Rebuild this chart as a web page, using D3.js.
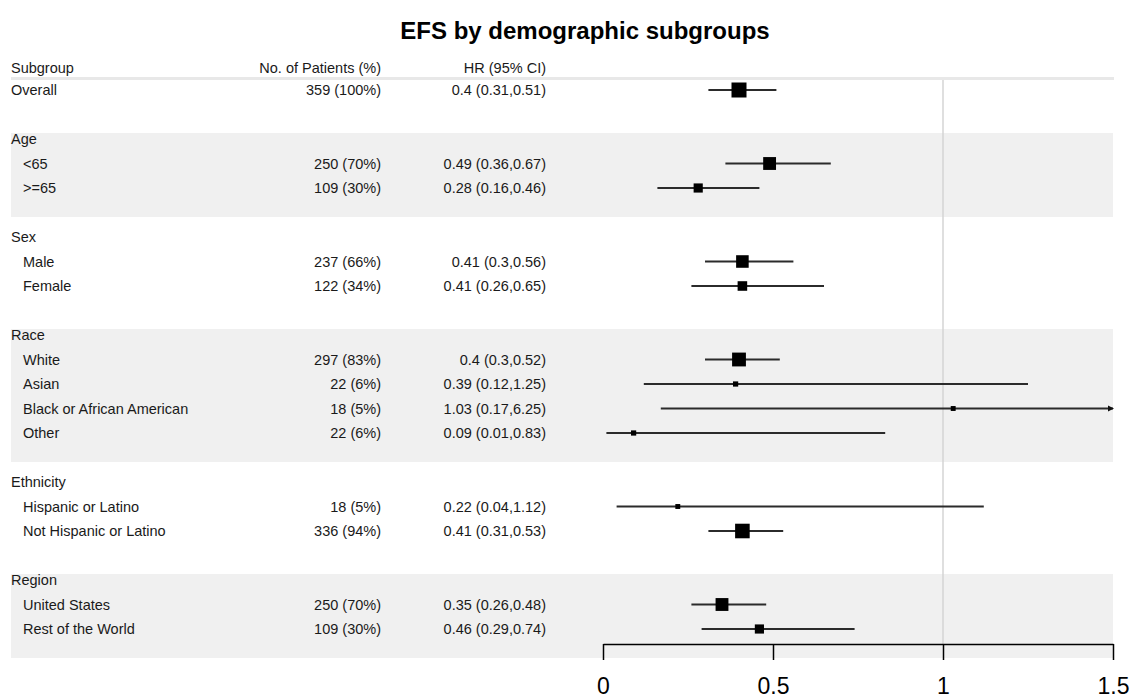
<!DOCTYPE html>
<html>
<head>
<meta charset="utf-8">
<script src="https://cdn.jsdelivr.net/npm/d3@7"></script>
<style>
  html, body { margin: 0; padding: 0; background: #fff; }
  svg { display: block; font-family: "Liberation Sans", Arial, sans-serif; }
</style>
</head>
<body>
<svg id="chart" width="1135" height="698"></svg>
<script>
// ---------- data ----------
const title = "EFS by demographic subgroups";
const columnHeaders = ["Subgroup", "No. of Patients (%)", "HR (95% CI)"];
const subgroups = ["Overall", "", "Age", "<65", ">=65", "", "Sex", "Male", "Female", "",
  "Race", "White", "Asian", "Black or African American", "Other", "",
  "Ethnicity", "Hispanic or Latino", "Not Hispanic or Latino", "",
  "Region", "United States", "Rest of the World"];
const rowType = ["overall", "blank", "group", "sub", "sub", "blank", "group", "sub", "sub", "blank",
  "group", "sub", "sub", "sub", "sub", "blank",
  "group", "sub", "sub", "blank",
  "group", "sub", "sub"];
const patients = [359, null, null, 250, 109, null, null, 237, 122, null,
  null, 297, 22, 18, 22, null,
  null, 18, 336, null,
  null, 250, 109];
const percents = [100, null, null, 70, 30, null, null, 66, 34, null,
  null, 83, 6, 5, 6, null,
  null, 5, 94, null,
  null, 70, 30];
const hr = [0.4, null, null, 0.49, 0.28, null, null, 0.41, 0.41, null,
  null, 0.4, 0.39, 1.03, 0.09, null,
  null, 0.22, 0.41, null,
  null, 0.35, 0.46];
const lower = [0.31, null, null, 0.36, 0.16, null, null, 0.3, 0.26, null,
  null, 0.3, 0.12, 0.17, 0.01, null,
  null, 0.04, 0.31, null,
  null, 0.26, 0.29];
const upper = [0.51, null, null, 0.67, 0.46, null, null, 0.56, 0.65, null,
  null, 0.52, 1.25, 6.25, 0.83, null,
  null, 1.12, 0.53, null,
  null, 0.48, 0.74];
const xTicks = [0, 0.5, 1, 1.5];
const refValue = 1;

// ---------- layout ----------
const svg = d3.select("#chart");
const fontSize = 14.5;
const textColor = "#1a1a1a";
const bandLeft = 11, bandRight = 1113;
const colSubX = 11, colSubIndent = 23, colNX = 381, colHRX = 546;

const x = d3.scaleLinear().domain([xTicks[0], xTicks[xTicks.length - 1]]).range([603, 1113]);
const y = d3.scaleLinear().domain([0, subgroups.length - 1]).range([90, 90 + (subgroups.length - 1) * 24.5]);
const boxSize = d3.scaleSqrt().domain([0, d3.max(patients)]).range([2, 15]);
const axisY = 644;

// title
svg.append("text")
  .attr("x", 585).attr("y", 39)
  .attr("text-anchor", "middle")
  .attr("font-size", 24).attr("font-weight", "bold")
  .attr("fill", "#000")
  .text(title);

// shaded group bands
const rows = subgroups.map((s, i) => ({ i, s, type: rowType[i] }));
const groupStarts = rows.filter(r => r.type === "group").map(r => r.i);
groupStarts.forEach((g, k) => {
  if (k % 2 !== 0) return;
  let last = g;
  while (last + 1 < rows.length && rows[last + 1].type === "sub") last++;
  svg.append("rect")
    .attr("x", bandLeft).attr("width", bandRight - bandLeft)
    .attr("y", y(g) - 6)
    .attr("height", (y(last) + 29) - (y(g) - 6))
    .attr("fill", "#f0f0f0");
});

// header separator
svg.append("line")
  .attr("x1", bandLeft).attr("x2", bandRight + 1)
  .attr("y1", 78.5).attr("y2", 78.5)
  .attr("stroke", "#e8e8e8").attr("stroke-width", 3);

// column headers
const hdrY = 68;
svg.append("text").attr("x", colSubX).attr("y", hdrY).attr("dy", "0.35em")
  .attr("font-size", fontSize).attr("fill", textColor).text(columnHeaders[0]);
svg.append("text").attr("x", colNX).attr("y", hdrY).attr("dy", "0.35em").attr("text-anchor", "end")
  .attr("font-size", fontSize).attr("fill", textColor).text(columnHeaders[1]);
svg.append("text").attr("x", colHRX).attr("y", hdrY).attr("dy", "0.35em").attr("text-anchor", "end")
  .attr("font-size", fontSize).attr("fill", textColor).text(columnHeaders[2]);

// reference line
svg.append("line")
  .attr("x1", x(refValue)).attr("x2", x(refValue))
  .attr("y1", 80).attr("y2", axisY)
  .attr("stroke", "#d4d4d4").attr("stroke-width", 1.5);

// row texts
const textRows = rows.filter(r => r.type !== "blank");
svg.selectAll("text.sub").data(textRows).enter().append("text")
  .attr("class", "sub")
  .attr("x", d => d.type === "sub" ? colSubIndent : colSubX)
  .attr("y", d => y(d.i)).attr("dy", "0.35em")
  .attr("font-size", fontSize).attr("fill", textColor)
  .text(d => d.s);

const dataRows = rows.filter(r => hr[r.i] !== null);
svg.selectAll("text.n").data(dataRows).enter().append("text")
  .attr("class", "n")
  .attr("x", colNX).attr("y", d => y(d.i)).attr("dy", "0.35em").attr("text-anchor", "end")
  .attr("font-size", fontSize).attr("fill", textColor)
  .text(d => `${patients[d.i]} (${percents[d.i]}%)`);
svg.selectAll("text.hr").data(dataRows).enter().append("text")
  .attr("class", "hr")
  .attr("x", colHRX).attr("y", d => y(d.i)).attr("dy", "0.35em").attr("text-anchor", "end")
  .attr("font-size", fontSize).attr("fill", textColor)
  .text(d => `${hr[d.i]} (${lower[d.i]},${upper[d.i]})`);

// CI lines
const xMax = x.domain()[1];
svg.selectAll("line.ci").data(dataRows).enter().append("line")
  .attr("class", "ci")
  .attr("x1", d => x(Math.max(lower[d.i], x.domain()[0])))
  .attr("x2", d => x(Math.min(upper[d.i], xMax)))
  .attr("y1", d => y(d.i)).attr("y2", d => y(d.i))
  .attr("stroke", "#2b2b2b").attr("stroke-width", 1.8);

// arrows for truncated CIs
svg.selectAll("path.arrow").data(dataRows.filter(d => upper[d.i] > xMax)).enter().append("path")
  .attr("class", "arrow")
  .attr("d", d => {
    const xe = x(xMax) + 1, yy = y(d.i);
    return `M${xe},${yy} L${xe - 6},${yy - 3} L${xe - 6},${yy + 3} Z`;
  })
  .attr("fill", "#111");

// boxes
svg.selectAll("rect.box").data(dataRows).enter().append("rect")
  .attr("class", "box")
  .attr("x", d => x(hr[d.i]) - boxSize(patients[d.i]) / 2)
  .attr("y", d => y(d.i) - boxSize(patients[d.i]) / 2)
  .attr("width", d => boxSize(patients[d.i]))
  .attr("height", d => boxSize(patients[d.i]))
  .attr("fill", "#000");

// axis
const axis = d3.axisBottom(x).tickValues(xTicks).tickSize(16).tickSizeOuter(0)
  .tickFormat(d => String(d));
const gAxis = svg.append("g").attr("transform", `translate(0,${axisY})`).call(axis);
gAxis.select(".domain").attr("stroke", "#000").attr("stroke-width", 1.5);
gAxis.selectAll(".tick line").attr("stroke", "#000").attr("stroke-width", 1.5);
gAxis.selectAll(".tick text")
  .attr("y", 50).attr("dy", 0)
  .attr("font-size", 23).attr("fill", "#000")
  .attr("font-family", "'Liberation Sans', Arial, sans-serif");
</script>
</body>
</html>
